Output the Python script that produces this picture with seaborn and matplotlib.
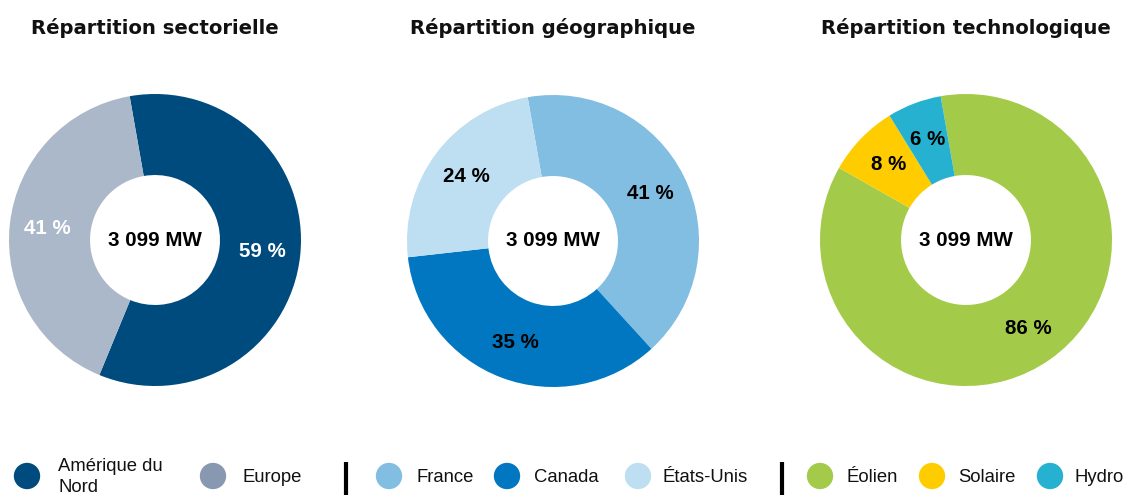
import matplotlib
matplotlib.use("Agg")
import matplotlib.pyplot as plt
import seaborn as sns

sns.set_theme(style="white")
plt.rcParams['font.family'] = ['Liberation Sans', 'DejaVu Sans']

#%%
'''DATA'''
total_label = "3 099 MW"

titles = ["Répartition sectorielle", "Répartition géographique", "Répartition technologique"]

secteur_labels = ["Amérique du\nNord", "Europe"]
secteur_values = [59, 41]
secteur_colors = ["#004b7e", "#abb8ca"]
secteur_legend_colors = ["#004b7e", "#8798b0"]

geo_labels = ["France", "Canada", "États-Unis"]
geo_values = [41, 35, 24]
geo_colors = ["#82bde2", "#0077c0", "#bedef1"]

techno_labels = ["Éolien", "Solaire", "Hydro"]
techno_values = [86, 8, 6]
techno_colors = ["#a3cb49", "#ffcc00", "#27b1d0"]

#%%
'''FIGURE'''
W, H = 1129, 495
fig = plt.figure(figsize=(W / 100, H / 100), dpi=100)

R = 146
centers = [(155, 240), (553, 241), (966, 240)]
groups = [
    (secteur_values, secteur_colors, "white"),
    (geo_values, geo_colors, "black"),
    (techno_values, techno_colors, "black"),
]

for (cx, cy), (vals, cols, txtcol), title in zip(centers, groups, titles):
    ax = fig.add_axes([(cx - R) / W, (H - cy - R) / H, 2 * R / W, 2 * R / H])
    wedges, texts, autotexts = ax.pie(
        vals, colors=cols, startangle=100, counterclock=False,
        radius=1, autopct=lambda p: f"{p:.0f} %", pctdistance=0.74,
        wedgeprops=dict(width=0.555, linewidth=0),
        textprops=dict(fontsize=14.8, fontweight="bold", color=txtcol))
    ax.set_xlim(-1, 1)
    ax.set_ylim(-1, 1)
    ax.set_aspect("equal")
    ax.axis("off")
    ax.text(0, 0, total_label, ha="center", va="center",
            fontsize=14.8, fontweight="bold", color="black")
    fig.text(cx / W, 1 - 28 / H, title, ha="center", va="center",
             fontsize=14.1, fontweight="bold", family=["DejaVu Sans"],
             color="#111111")

#%%
'''LEGEND'''
lax = fig.add_axes([0, 0, 1, 1])

leg_labels = secteur_labels + geo_labels + techno_labels
leg_colors = secteur_legend_colors + geo_colors + techno_colors
marker_x = [27, 213, 389, 507, 638, 820, 932, 1050]
text_x = [58, 243, 416, 534, 662, 847, 958, 1075]
leg_y = 476

sns.scatterplot(x=marker_x, y=[leg_y] * len(marker_x), hue=leg_labels,
                palette=leg_colors, s=360, linewidth=0, legend=False, ax=lax)
lax.set_xlim(0, W)
lax.set_ylim(H, 0)
lax.axis("off")

for x, lab in zip(text_x, leg_labels):
    if "\n" in lab:
        lax.text(x, 477, lab, ha="left", va="center", fontsize=13.3,
                 linespacing=1.25, color="#111111")
    else:
        lax.text(x, leg_y + 1, lab, ha="left", va="center", fontsize=13.3,
                 color="#111111")

for bx in [346, 782]:
    lax.plot([bx, bx], [462, 495], color="black", linewidth=3, solid_capstyle="butt")

fig.savefig("out.png", dpi=100)
